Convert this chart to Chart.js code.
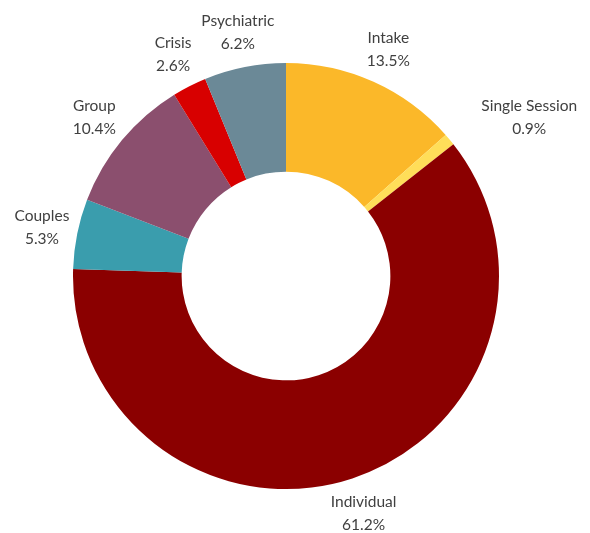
<!DOCTYPE html>
<html>
<head>
<meta charset="utf-8">
<script src="https://cdn.jsdelivr.net/npm/chart.js@4"></script>
<style>
  html, body { margin: 0; padding: 0; background: #fff; }
  #wrap { width: 590px; height: 533px; }
</style>
</head>
<body>
<div id="wrap"><canvas id="sessionChart" width="590" height="533"></canvas></div>
<script>
// Session types share (%)
const categories = ['Intake', 'Single Session', 'Individual', 'Couples', 'Group', 'Crisis', 'Psychiatric'];
const shares = [13.5, 0.9, 61.2, 5.3, 10.4, 2.6, 6.2];
const sliceColors = ['#FBB829', '#FFDE59', '#8B0000', '#3A9DAD', '#8B4F6E', '#D80000', '#6B8997'];

// the thin slice's label is pushed out so it clears Intake
const labelNudge = {
    'Single Session': { dx: 52, dy: 0 }
};

const outsideLabels = {
    id: 'outsideLabels',
    afterDatasetsDraw(chart) {
        const ctx = chart.ctx;
        const meta = chart.getDatasetMeta(0);
        ctx.save();
        ctx.font = "15.5px Lato, 'Noto Sans', sans-serif";
        ctx.fillStyle = '#404040';
        ctx.textAlign = 'center';
        ctx.textBaseline = 'middle';
        meta.data.forEach((arc, i) => {
            const p = arc.getProps(['x', 'y', 'startAngle', 'endAngle', 'outerRadius'], true);
            const mid = (p.startAngle + p.endAngle) / 2;
            const r = p.outerRadius + 36;
            const nudge = labelNudge[categories[i]] || { dx: 0, dy: 0 };
            const x = p.x + Math.cos(mid) * r + nudge.dx;
            const y = p.y + Math.sin(mid) * r + nudge.dy;
            ctx.fillText(categories[i], x, y - 11);
            ctx.fillText(shares[i].toFixed(1) + '%', x, y + 12);
        });
        ctx.restore();
    }
};

new Chart(document.getElementById('sessionChart').getContext('2d'), {
    type: 'doughnut',
    data: {
        labels: categories,
        datasets: [{
            data: shares,
            backgroundColor: sliceColors,
            borderWidth: 0
        }]
    },
    options: {
        responsive: false,
        animation: false,
        cutout: '49%',
        layout: {
            padding: { top: 63, bottom: 44, left: 73, right: 91 }
        },
        plugins: {
            legend: { display: false },
            tooltip: { enabled: false }
        }
    },
    plugins: [outsideLabels]
});
</script>
</body>
</html>
